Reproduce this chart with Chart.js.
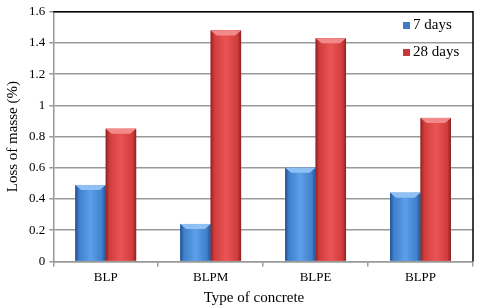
<!DOCTYPE html>
<html><head><meta charset="utf-8">
<script src="https://cdn.jsdelivr.net/npm/chart.js@4"></script>
<style>html,body{margin:0;padding:0;background:#fff}#wrap{width:480px;height:308px}</style>
</head><body><div id="wrap"><canvas id="c" width="480" height="308"></canvas></div>
<script>
const categories = ["BLP", "BLPM", "BLPE", "BLPP"];
const days7 = [0.49, 0.24, 0.60, 0.44];
const days28 = [0.85, 1.48, 1.43, 0.92];
const yTicks = [0, 0.2, 0.4, 0.6, 0.8, 1, 1.2, 1.4, 1.6];
const seriesNames = ["7 days", "28 days"];
const xTitle = "Type of concrete";
const yTitle = "Loss of masse (%)";

const shades = [
  {light: '#5d9fe8', mid: '#3f7fcc', dark: '#22508e', top: '#8fc0f4'},
  {light: '#ea5454', mid: '#d03c3c', dark: '#8c2222', top: '#f28a8a'}
];

const bevel = {
  id: 'bevel',
  afterDatasetsDraw(chart) {
    const ctx = chart.ctx;
    ctx.save();
    chart.data.datasets.forEach((ds, di) => {
      const meta = chart.getDatasetMeta(di);
      const s = shades[di];
      meta.data.forEach(el => {
        const x0 = el.x - el.width / 2, x1 = el.x + el.width / 2;
        const yt = el.y, yb = el.base;
        const g = ctx.createLinearGradient(x0, 0, x1, 0);
        g.addColorStop(0, s.dark);
        g.addColorStop(0.12, s.mid);
        g.addColorStop(0.5, s.light);
        g.addColorStop(0.88, s.mid);
        g.addColorStop(1, s.dark);
        ctx.fillStyle = g;
        ctx.fillRect(x0, yt, x1 - x0, yb - yt);
        const b = Math.min(5, (yb - yt) / 2);
        ctx.fillStyle = s.top;
        ctx.beginPath();
        ctx.moveTo(x0, yt); ctx.lineTo(x1, yt); ctx.lineTo(x1 - 6, yt + b); ctx.lineTo(x0 + 6, yt + b);
        ctx.closePath();
        ctx.fill();
      });
    });
    ctx.restore();
  }
};

const frame = {
  id: 'frame',
  afterDatasetsDraw(chart) {
    const {ctx, chartArea: a} = chart;
    ctx.save();
    ctx.strokeStyle = '#000';
    ctx.lineWidth = 1.5;
    ctx.beginPath();
    ctx.moveTo(a.left, a.top); ctx.lineTo(a.right, a.top); ctx.lineTo(a.right, a.bottom);
    ctx.stroke();
    const items = [{t: seriesNames[0], c: '#3f7cc8'}, {t: seriesNames[1], c: '#c83838'}];
    ctx.font = '15px "Liberation Serif", "Times New Roman", serif';
    ctx.textBaseline = 'middle';
    items.forEach((it, i) => {
      const y = 25 + i * 27;
      ctx.fillStyle = it.c;
      ctx.fillRect(403, y - 3, 7, 7);
      ctx.fillStyle = '#000';
      ctx.fillText(it.t, 413, y);
    });
    // x axis title
    ctx.font = '15px "Liberation Serif", "Times New Roman", serif';
    ctx.textAlign = 'center';
    ctx.fillText(xTitle, 254, 298);
    ctx.restore();
  }
};

new Chart(document.getElementById('c'), {
  type: 'bar',
  data: {
    labels: categories,
    datasets: [
      {label: seriesNames[0], data: days7, backgroundColor: '#3f7fcc', borderWidth: 0},
      {label: seriesNames[1], data: days28, backgroundColor: '#d03c3c', borderWidth: 0}
    ]
  },
  options: {
    responsive: false,
    animation: false,
    devicePixelRatio: 1,
    layout: {padding: {left: 4, top: 11, right: 7, bottom: 20}},
    datasets: {bar: {barPercentage: 1, categoryPercentage: 0.58}},
    plugins: {legend: {display: false}, tooltip: {enabled: false}},
    scales: {
      x: {
        offset: true,
        grid: {offset: true, drawOnChartArea: false, drawTicks: true, tickLength: 5, color: '#999', lineWidth: 1.5},
        border: {color: '#999', width: 1.5},
        ticks: {color: '#000', font: {family: '"Liberation Serif", serif', size: 13}, padding: 3},
        title: {display: false}
      },
      y: {
        min: 0, max: 1.6,
        afterBuildTicks(s) { s.ticks = yTicks.map(v => ({value: v})); },
        grid: {color: '#999', lineWidth: 1.5, tickLength: 4},
        border: {color: '#999', width: 1.5},
        ticks: {color: '#000', font: {family: '"Liberation Serif", serif', size: 13}, padding: 4,
          callback: v => String(v)},
        title: {display: true, text: yTitle, color: '#000', font: {family: '"Liberation Serif", serif', size: 15}, padding: {top: 0, bottom: 3}}
      }
    }
  },
  plugins: [bevel, frame]
});
</script></body></html>
